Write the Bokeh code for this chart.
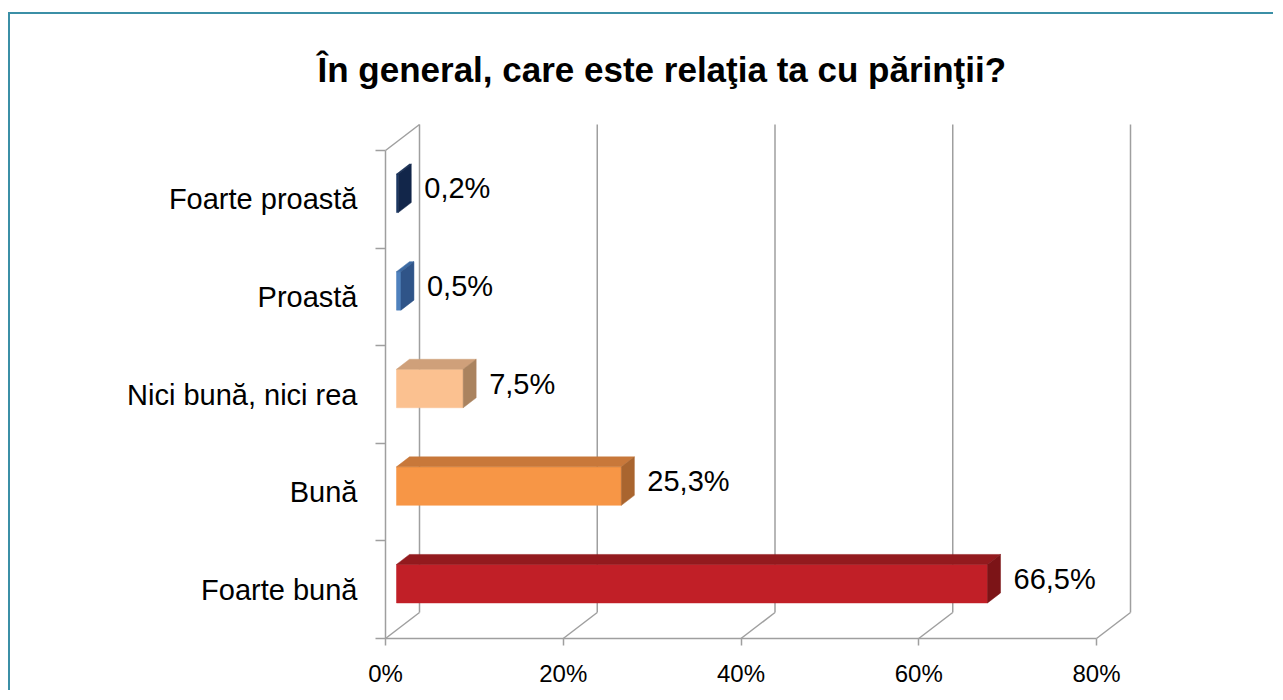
from bokeh.plotting import figure
from bokeh.models import FixedTicker, Range1d, ColumnDataSource
from bokeh.embed import file_html
from bokeh.resources import INLINE
from bokeh.core.properties import value

# ---------------- data ----------------
title_text = "În general, care este relaţia ta cu părinţii?"
categories = ["Foarte bună", "Bună", "Nici bună, nici rea", "Proastă", "Foarte proastă"]  # bottom -> top
percentages = [66.5, 25.3, 7.5, 0.5, 0.2]
x_ticks = [0, 20, 40, 60, 80]
x_tick_labels = ["0%", "20%", "40%", "60%", "80%"]
front_colors = ["#c11f27", "#f79646", "#fbc190", "#4f81bd", "#1f3b66"]
top_colors = ["#931a1e", "#c8783a", "#cfa07a", "#3c6aa3", "#183056"]
side_colors = ["#7c1417", "#a9652f", "#aa835f", "#2f5488", "#12264a"]

# ---------------- geometry (pixels -> data units) ----------------
W, H = 1265, 678
ML, MT, MB = 370, 96, 49
FW, FH = W - ML, H - MT - MB
PX_X = 711 / 80.0   # pixels per percent
PX_Y = 97.6         # pixels per category band
PAD = 5


def px_x(n):
    return n / PX_X


def px_y(n):
    return n / PX_Y


x0 = -px_x(PAD)
y0 = -px_y(PAD)
n_cat = len(categories)

WALL_DX, WALL_DY = px_x(34), px_y(26)
BAR_X0 = px_x(11)
BAR_DX, BAR_DY = px_x(13), px_y(10)
BAR_H = px_y(38.5)
BAR_SHIFT = px_y(6)
LABEL_GAP = px_x(13)
LABEL_SHIFT = px_y(11)

GRID = "#9f9f9f"
FONT = "Liberation Sans"

p = figure(width=W, height=H,
           x_range=Range1d(x0, x0 + px_x(FW)),
           y_range=Range1d(y0, y0 + px_y(FH)),
           output_backend="svg", toolbar_location=None,
           min_border_left=ML, min_border_right=0,
           min_border_top=MT, min_border_bottom=MB)
p.background_fill_color = "white"
p.border_fill_color = "white"
p.outline_line_color = None
p.xgrid.visible = False
p.ygrid.visible = False
p.styles = {"border-top": "2px solid #3b8fa6", "border-left": "2px solid #3b8fa6",
            "margin-top": "12px", "margin-left": "8px"}

# title
p.title.text = title_text
p.title.text_font = FONT
p.title.text_font_style = "bold"
p.title.text_font_size = "35px"
p.title.text_color = "black"
p.title.align = "left"
p.title.offset = -63
p.title.standoff = 44

# ---------------- 3D walls / grid ----------------
back_top = n_cat + WALL_DY
# back vertical grid lines
p.segment(x0=[t + WALL_DX for t in x_ticks], y0=[WALL_DY] * len(x_ticks),
          x1=[t + WALL_DX for t in x_ticks], y1=[back_top] * len(x_ticks),
          line_color=GRID, line_width=1.5)
# floor diagonals
p.segment(x0=x_ticks, y0=[0] * len(x_ticks),
          x1=[t + WALL_DX for t in x_ticks], y1=[WALL_DY] * len(x_ticks),
          line_color=GRID, line_width=1.5)
# front floor line, front left axis line, top diagonal of left wall
p.segment(x0=[x_ticks[0], x_ticks[0], x_ticks[0]], y0=[0, 0, n_cat],
          x1=[x_ticks[-1], x_ticks[0], x_ticks[0] + WALL_DX], y1=[0, n_cat, back_top],
          line_color=GRID, line_width=1.5)

# ---------------- bars ----------------
xs, ys, cols = [], [], []
for i, v in enumerate(percentages):
    yc = i + 0.5 + BAR_SHIFT
    yb, yt = yc - BAR_H / 2, yc + BAR_H / 2
    xl, xr = BAR_X0, BAR_X0 + v
    # front
    xs.append([xl, xr, xr, xl]); ys.append([yb, yb, yt, yt]); cols.append(front_colors[i])
    # top
    xs.append([xl, xr, xr + BAR_DX, xl + BAR_DX]); ys.append([yt, yt, yt + BAR_DY, yt + BAR_DY]); cols.append(top_colors[i])
    # right side
    xs.append([xr, xr + BAR_DX, xr + BAR_DX, xr]); ys.append([yb, yb + BAR_DY, yt + BAR_DY, yt]); cols.append(side_colors[i])
p.patches(xs=xs, ys=ys, fill_color=cols, line_color=cols, line_width=0.5)

# value labels
lab_src = ColumnDataSource(dict(
    x=[BAR_X0 + v + BAR_DX + LABEL_GAP for v in percentages],
    y=[i + 0.5 + LABEL_SHIFT for i in range(n_cat)],
    t=[("%.1f" % v).replace(".", ",") + "%" for v in percentages]))
p.text(x="x", y="y", text="t", source=lab_src, text_font=value(FONT),
       text_font_size="29px", text_align="left", text_baseline="middle", text_color="black")

# ---------------- axes ----------------
p.yaxis.ticker = FixedTicker(ticks=[i + 0.5 for i in range(n_cat)], minor_ticks=list(range(n_cat + 1)))
p.yaxis.major_label_overrides = {i + 0.5: c for i, c in enumerate(categories)}
p.yaxis.axis_line_color = None
p.yaxis.major_tick_line_color = None
p.yaxis.major_tick_in = 0
p.yaxis.major_tick_out = 0
p.yaxis.minor_tick_in = PAD
p.yaxis.minor_tick_out = 5
p.yaxis.minor_tick_line_color = GRID
p.yaxis.minor_tick_line_width = 1.5
p.yaxis.major_label_standoff = 18
p.yaxis.major_label_text_font = FONT
p.yaxis.major_label_text_font_size = "29px"
p.yaxis.major_label_text_color = "black"

p.xaxis.ticker = FixedTicker(ticks=x_ticks, minor_ticks=[])
p.xaxis.major_label_overrides = dict(zip(x_ticks, x_tick_labels))
p.xaxis.axis_line_color = None
p.xaxis.major_tick_in = PAD
p.xaxis.major_tick_out = 2
p.xaxis.major_tick_line_color = GRID
p.xaxis.major_tick_line_width = 1.5
p.xaxis.minor_tick_line_color = None
p.xaxis.major_label_standoff = 14
p.xaxis.major_label_text_font = FONT
p.xaxis.major_label_text_font_size = "24px"
p.xaxis.major_label_text_color = "black"

open("out.html", "w").write(file_html(p, INLINE))
